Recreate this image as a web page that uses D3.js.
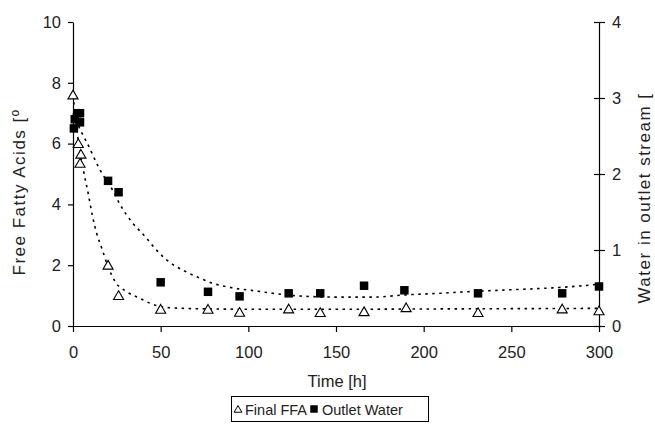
<!DOCTYPE html>
<html><head><meta charset="utf-8">
<script src="https://cdn.jsdelivr.net/npm/d3@7"></script>
<style>
body{margin:0;background:#fff}
svg{display:block}
text{font-family:"Liberation Sans",Arial,sans-serif;fill:#222}
</style>
</head><body>
<script>
// ---- data ----
const ffaTime  = [0, 3, 4.5, 4, 20, 26, 50, 77, 95, 123, 141, 166, 190, 231, 279, 300];
const ffaValue = [7.6, 6.0, 5.65, 5.35, 2.0, 1.0, 0.55, 0.55, 0.45, 0.56, 0.44, 0.47, 0.6, 0.44, 0.56, 0.5];
const waterTime  = [0.5, 1, 2.5, 4, 4, 20, 26, 50, 77, 95, 123, 141, 166, 189, 231, 279, 300];
const waterValue = [2.6, 2.72, 2.8, 2.8, 2.68, 1.91, 1.76, 0.575, 0.45, 0.39, 0.43, 0.43, 0.53, 0.47, 0.43, 0.43, 0.52];
// trendlines
const ffaTrendTime  = [0, 3, 5.9, 8.7, 11, 13.5, 16.4, 20, 24, 29.7, 38.2, 43.9, 55.3, 80, 106, 150, 200, 250, 300];
const ffaTrendValue = [7.6, 6.1, 5.13, 4.35, 3.65, 3.05, 2.56, 1.95, 1.46, 1.16, 0.91, 0.75, 0.6, 0.56, 0.55, 0.55, 0.56, 0.57, 0.58];
const waterTrendTime  = [0, 4.6, 7.8, 14.8, 23, 26.8, 33.5, 41, 46.8, 53.4, 64.8, 72.4, 80, 91.4, 104.8, 114, 133, 152, 171, 190, 209, 224.5, 253, 272, 291, 300];
const waterTrendValue = [2.8, 2.56, 2.42, 2.08, 1.77, 1.6, 1.37, 1.18, 1.02, 0.87, 0.71, 0.63, 0.56, 0.5, 0.46, 0.43, 0.39, 0.38, 0.38, 0.41, 0.43, 0.45, 0.48, 0.5, 0.53, 0.55];
const xTicks = [0, 50, 100, 150, 200, 250, 300];
const yLeftTicks = [0, 2, 4, 6, 8, 10];
const yRightTicks = [0, 1, 2, 3, 4];
const legendLabels = ["Final FFA", "Outlet Water"];
const xTitle = "Time [h]";
const yLeftTitle = "Free Fatty Acids [º";
const yRightTitle = "Water in outlet stream [";

const W = 655, H = 427;
const L = 73, R = 599, T = 22, B = 326;
const svg = d3.select("body").append("svg").attr("width", W).attr("height", H);

const x = d3.scaleLinear().domain([0, 300]).range([L, R]);
const yL = d3.scaleLinear().domain([0, 10]).range([B, T]);
const yR = d3.scaleLinear().domain([0, 4]).range([B, T]);
const fmt = d3.format("d");

// axes
const gx = svg.append("g").attr("transform", `translate(0,${B})`)
  .call(d3.axisBottom(x).tickValues(xTicks).tickFormat(fmt).tickSize(6).tickPadding(18).tickSizeOuter(0));
const gl = svg.append("g").attr("transform", `translate(${L},0)`)
  .call(d3.axisLeft(yL).tickValues(yLeftTicks).tickFormat(fmt).tickSize(5).tickPadding(7).tickSizeOuter(0));
const gr = svg.append("g").attr("transform", `translate(${R},0)`)
  .call(d3.axisRight(yR).tickValues(yRightTicks).tickFormat(fmt).tickSize(6).tickPadding(7).tickSizeOuter(0));
gr.selectAll(".tick line").attr("x1", -5);
[gx, gl, gr].forEach(g => {
  g.select(".domain").attr("stroke", "#000").attr("stroke-width", 1.2);
  g.selectAll(".tick line").attr("stroke", "#000").attr("stroke-width", 1.2);
  g.selectAll(".tick text").style("font-size", "16.5px").attr("fill", "#333")
    .style("font-family", '"Liberation Sans",Arial,sans-serif');
});
gx.selectAll(".tick text").attr("dy", "0.5em");

// titles
svg.append("text").attr("x", (L + R) / 2 + 1).attr("y", 387).attr("text-anchor", "middle")
  .style("font-size", "16.5px").attr("fill", "#333").text(xTitle);
svg.append("text").attr("transform", `translate(25,192) rotate(-90)`).attr("text-anchor", "middle")
  .style("font-size", "17px").style("letter-spacing", "1.5px").attr("fill", "#333").text(yLeftTitle);
svg.append("text").attr("transform", `translate(650,198) rotate(-90)`).attr("text-anchor", "middle")
  .style("font-size", "17px").style("letter-spacing", "1.5px").attr("fill", "#333").text(yRightTitle);

// trendlines
const ffaTrend = ffaTrendTime.map((t, i) => [t, ffaTrendValue[i]]);
const waterTrend = waterTrendTime.map((t, i) => [t, waterTrendValue[i]]);
svg.append("path").datum(ffaTrend)
  .attr("d", d3.line().x(d => x(d[0])).y(d => yL(d[1])).curve(d3.curveMonotoneX))
  .attr("fill", "none").attr("stroke", "#000").attr("stroke-width", 1.6).attr("stroke-dasharray", "2.5,4.5");
svg.append("path").datum(waterTrend)
  .attr("d", d3.line().x(d => x(d[0])).y(d => yR(d[1])).curve(d3.curveMonotoneX))
  .attr("fill", "none").attr("stroke", "#000").attr("stroke-width", 1.6).attr("stroke-dasharray", "2.5,4.5");

// markers
const tri = d3.symbol().type(d3.symbolTriangle).size(44);
const sq = d3.symbol().type(d3.symbolSquare).size(72);
svg.append("g").selectAll("path").data(waterTime.map((t, i) => [t, waterValue[i]])).join("path")
  .attr("d", sq).attr("transform", d => `translate(${x(d[0])},${yR(d[1])})`).attr("fill", "#000");
svg.append("g").selectAll("path").data(ffaTime.map((t, i) => [t, ffaValue[i]])).join("path")
  .attr("d", tri).attr("transform", d => `translate(${x(d[0])},${yL(d[1]) + 1})`)
  .attr("fill", "#fff").attr("stroke", "#000").attr("stroke-width", 1.1);

// legend
const lg = svg.append("g");
lg.append("rect").attr("x", 231.5).attr("y", 396.5).attr("width", 197).attr("height", 25)
  .attr("fill", "#fff").attr("stroke", "#000").attr("stroke-width", 1);
lg.append("path").attr("d", d3.symbol().type(d3.symbolTriangle).size(26))
  .attr("transform", "translate(238,410)").attr("fill", "#fff").attr("stroke", "#000").attr("stroke-width", 1);
lg.append("text").attr("x", 245).attr("y", 414.5).style("font-size", "14.5px").attr("fill", "#333").text(legendLabels[0]);
lg.append("path").attr("d", d3.symbol().type(d3.symbolSquare).size(56))
  .attr("transform", "translate(314,409)").attr("fill", "#000");
lg.append("text").attr("x", 322).attr("y", 414.5).style("font-size", "14.5px").attr("fill", "#333").text(legendLabels[1]);
</script>
</body></html>
